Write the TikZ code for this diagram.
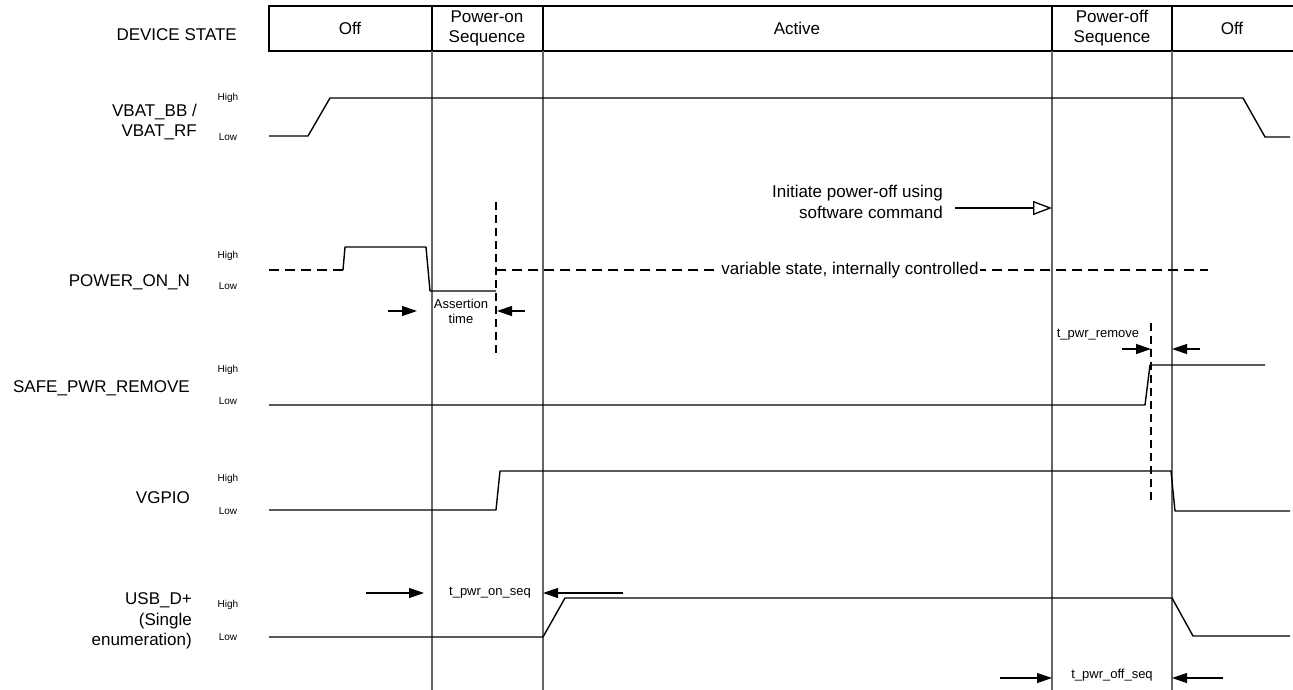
\documentclass[tikz,border=0pt]{standalone}
\usepackage{fontspec}
\setmainfont{Liberation Sans}
\usetikzlibrary{arrows.meta, positioning}

\begin{document}
\begin{tikzpicture}[x=1pt, y=-1pt,
    lbl/.style={font=\fontsize{17}{20.5}\selectfont, align=right, anchor=east, inner sep=0pt},
    cell/.style={font=\fontsize{17}{20}\selectfont, align=center, inner sep=0pt},
    lvl/.style={font=\fontsize{10}{12}\selectfont, inner sep=0pt},
    note/.style={font=\fontsize{13}{15}\selectfont, align=center, inner sep=0pt},
    sig/.style={line width=1.4pt, line join=round},
    grid/.style={line width=1.1pt, black!60},
    vardash/.style={line width=2.6pt, dash pattern=on 10pt off 6pt},
    cutline/.style={line width=2pt, dash pattern=on 8pt off 5pt},
    dim/.style={-{Triangle[length=15pt, width=10pt]}, line width=1.3pt}]

    \useasboundingbox (0,0) rectangle (1293,690);

    % State row
    \node[lbl, anchor=east] (state) at (237,35) {DEVICE STATE};
    \draw[line width=1.4pt] (1293,6) -- (269,6) -- (269,51) -- (1293,51);
    \foreach \x in {432,543,1052,1172} {
        \draw[line width=1.4pt] (\x,6) -- (\x,51);
        \draw[grid] (\x,51) -- (\x,690);
    }
    \node[cell] (off1) at (350,28) {Off};
    \node[cell] (pon) at (487,28) {Power-on\\Sequence};
    \node[cell] (act) at (797,28) {Active};
    \node[cell] (poff) at (1112,28) {Power-off\\Sequence};
    \node[cell] (off2) at (1232,28) {Off};

    % Signal names
    \node[lbl] (vbat) at (197,122) {VBAT\_BB /\\VBAT\_RF};
    \node[lbl] (pwron) at (190,282) {POWER\_ON\_N};
    \node[lbl] (safe) at (190,388) {SAFE\_PWR\_REMOVE};
    \node[lbl] (vgpio) at (190,498) {VGPIO};
    \node[lbl] (usb) at (192,621) {USB\_D+\\(Single\\enumeration)};

    % Levels
    \foreach \hy/\ly/\nm in {98/137/vbat, 256/286/pwron, 370/401/safe, 479/511/vgpio, 605/637/usb} {
        \node[lvl] (\nm-hi) at (228,\hy) {High};
        \node[lvl] (\nm-lo) at (228,\ly) {Low};
    }

    % Waveforms
    \draw[sig] (269,136) -- (308,136) -- (330,98) -- (1243,98) -- (1265,137) -- (1290,137);
    \draw[vardash] (269,270) -- (343,270);
    \draw[sig] (343,270) -- (345,247) -- (426,247) -- (430,291) -- (496,291);
    \draw[vardash] (496,270) -- (1208,270);
    \node[font=\fontsize{17}{20}\selectfont, fill=white, inner sep=1pt] (var) at (850,270) {variable state, internally controlled};
    \draw[sig] (269,405) -- (1145,405) -- (1150,365) -- (1265,365);
    \draw[sig] (269,510) -- (496,510) -- (500,471) -- (1171,471) -- (1175,511) -- (1290,511);
    \draw[sig] (269,637) -- (543,637) -- (565,598) -- (1172,598) -- (1193,636) -- (1290,636);

    % Timing marks
    \draw[cutline] (496,202) -- (496,358);
    \draw[cutline] (1151,323) -- (1151,500);

    \node[note] (assert) at (461,311) {Assertion\\time};
    \draw[dim] (388,311) -- (417,311);
    \draw[dim] (525,311) -- (497,311);

    \node[note] (tremove) at (1098,335) {t\_pwr\_remove};
    \draw[dim] (1122,349) -- (1151,349);
    \draw[dim] (1200,349) -- (1172,349);

    \node[note] (tonseq) at (490,593) {t\_pwr\_on\_seq};
    \draw[dim] (366,593) -- (424,593);
    \draw[dim] (623,593) -- (543,593);

    \node[note] (toffseq) at (1112,675) {t\_pwr\_off\_seq};
    \draw[dim] (1000,678) -- (1052,678);
    \draw[dim] (1223,678) -- (1172,678);

    % Software command
    \node[lbl, anchor=east] (cmd) at (943,202) {Initiate power-off using\\software command};
    \draw[-{Triangle[open, length=19pt, width=14pt, fill=white]}, line width=1.3pt] (955,208) -- (1052,208);
\end{tikzpicture}
\end{document}
